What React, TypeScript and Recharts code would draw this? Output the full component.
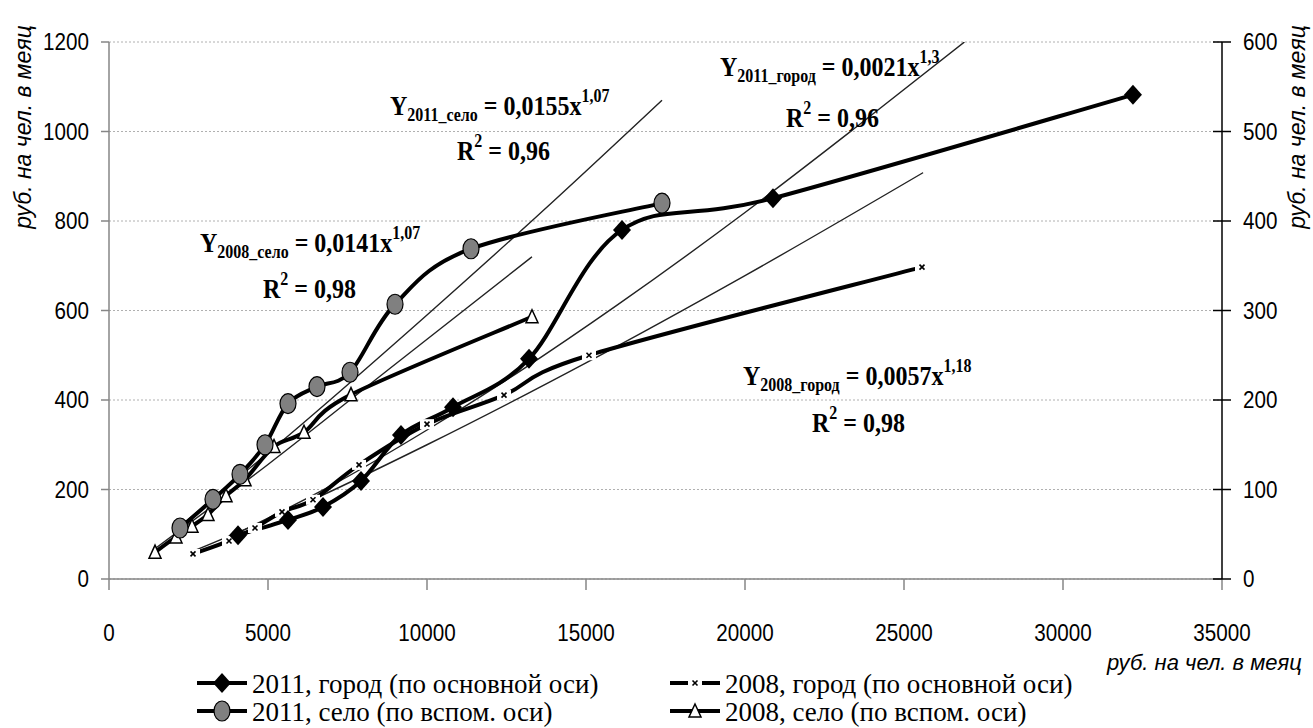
import React from 'react';
import { ComposedChart, Line, XAxis, YAxis, CartesianGrid } from 'recharts';

// Axis ticks
const xTicks = [0, 5000, 10000, 15000, 20000, 25000, 30000, 35000];
const leftTicks = [0, 200, 400, 600, 800, 1000, 1200];
const rightTicks = [0, 100, 200, 300, 400, 500, 600];

// 2011, город (primary axis)
const city2011X = [4057, 5629, 6730, 7925, 9182, 10818, 13208, 16132, 20880, 32200];
const city2011Y = [98, 132, 161, 219, 322, 384, 492, 780, 851, 1082];

// 2008, город (primary axis)
const city2008X = [2642, 3774, 4591, 5440, 6415, 7862, 10000, 12422, 15094, 25566];
const city2008Y = [56, 85, 114, 150, 177, 255, 346, 411, 500, 697];

// 2011, село (secondary axis)
const village2011X = [2233, 3270, 4120, 4906, 5629, 6541, 7579, 8994, 11384, 17390];
const village2011Y = [57, 89, 117, 150, 196, 215, 231, 307, 369, 420];

// 2008, село (secondary axis)
const village2008X = [1447, 2107, 2610, 3113, 3680, 4277, 5189, 6132, 7610, 13302];
const village2008Y = [30, 47, 59, 72, 93, 111, 148, 164, 206, 293];

// power trend lines
const trendCity2011X = [4057, 7000, 10000, 13000, 16000, 20000, 23500, 26900];
const trendCity2011Y = [103, 209, 333, 468, 613, 819, 1010, 1200];
const trendCity2008X = [2642, 6000, 10000, 15000, 20000, 25600];
const trendCity2008Y = [62, 164, 300, 483, 678, 908];
const trendVillage2011X = [2233, 6000, 10000, 14000, 17390];
const trendVillage2011Y = [59, 171, 295, 423, 535];
const trendVillage2008X = [1447, 5000, 9000, 13302];
const trendVillage2008Y = [34, 128, 240, 360];

const zip = (xs: number[], ys: number[]) => xs.map((x, i) => ({ x, y: ys[i] }));

const SANS = "'Liberation Sans', Arial, sans-serif";
const SERIF = "'Liberation Serif', 'Times New Roman', serif";
const TITLE = 'руб. на чел. в меяц';

// Excel-like smoothed line (Catmull-Rom style bezier)
const smoothCurve = (context: any) => {
  let pts: number[][] = [];
  return {
    areaStart() {},
    areaEnd() {},
    lineStart() {
      pts = [];
    },
    point(x: number, y: number) {
      pts.push([+x, +y]);
    },
    lineEnd() {
      const n = pts.length;
      if (!n) return;
      context.moveTo(pts[0][0], pts[0][1]);
      for (let i = 0; i < n - 1; i++) {
        const p0 = pts[i - 1] || pts[i];
        const p1 = pts[i];
        const p2 = pts[i + 1];
        const p3 = pts[i + 2] || p2;
        context.bezierCurveTo(
          p1[0] + (p2[0] - p0[0]) / 6,
          p1[1] + (p2[1] - p0[1]) / 6,
          p2[0] - (p3[0] - p1[0]) / 6,
          p2[1] - (p3[1] - p1[1]) / 6,
          p2[0],
          p2[1]
        );
      }
    },
  };
};

const DiamondDot = (p: any) => {
  const { cx, cy, index } = p;
  if (cx == null || cy == null) return <g key={`dm-${index}`} />;
  return (
    <polygon
      key={`dm-${index}`}
      points={`${cx},${cy - 10} ${cx + 9},${cy} ${cx},${cy + 10} ${cx - 9},${cy}`}
      fill="#000"
    />
  );
};

const CrossDot = (p: any) => {
  const { cx, cy, index } = p;
  if (cx == null || cy == null) return <g key={`cr-${index}`} />;
  return (
    <g key={`cr-${index}`}>
      <rect x={cx - 7} y={cy - 5} width={14} height={10} fill="#fff" />
      <line x1={cx - 2.5} y1={cy - 2.5} x2={cx + 2.5} y2={cy + 2.5} stroke="#000" strokeWidth={1.6} />
      <line x1={cx - 2.5} y1={cy + 2.5} x2={cx + 2.5} y2={cy - 2.5} stroke="#000" strokeWidth={1.6} />
    </g>
  );
};

const CircleDot = (p: any) => {
  const { cx, cy, index } = p;
  if (cx == null || cy == null) return <g key={`ci-${index}`} />;
  return <ellipse key={`ci-${index}`} cx={cx} cy={cy} rx={8} ry={10} fill="#808080" stroke="#000" strokeWidth={1.2} />;
};

const TriangleDot = (p: any) => {
  const { cx, cy, index } = p;
  if (cx == null || cy == null) return <g key={`tr-${index}`} />;
  return (
    <polygon
      key={`tr-${index}`}
      points={`${cx},${cy - 7} ${cx + 6},${cy + 6} ${cx - 6},${cy + 6}`}
      fill="#fff"
      stroke="#000"
      strokeWidth={1.5}
    />
  );
};

// narrow-looking tick labels
const XTick = (props: any) => {
  const { x, y, payload } = props;
  return (
    <text transform={`translate(${x},${y}) scale(0.86,1)`} dy="0.71em" textAnchor="middle" fill="#000" fontSize={24} fontFamily={SANS}>
      {payload.value}
    </text>
  );
};

const LeftTick = (props: any) => {
  const { x, y, payload } = props;
  return (
    <text transform={`translate(${x},${y}) scale(0.86,1)`} dy="0.35em" textAnchor="end" fill="#000" fontSize={24} fontFamily={SANS}>
      {payload.value}
    </text>
  );
};

const RightTick = (props: any) => {
  const { x, y, payload } = props;
  const ax = x - 21;
  return (
    <g>
      <line x1={ax - 9} x2={ax} y1={y} y2={y} stroke="#000" strokeWidth={1.5} />
      <text transform={`translate(${x},${y}) scale(0.86,1)`} dy="0.35em" textAnchor="start" fill="#000" fontSize={24} fontFamily={SANS}>
        {payload.value}
      </text>
    </g>
  );
};

const Equation = ({ x, y, sub, coef, pow }: any) => (
  <g transform={`translate(${x},${y}) scale(1,1.15)`}>
    <text x={0} y={0} fontFamily={SERIF} fontWeight="bold" fontSize={24} fill="#000">
      Y<tspan fontSize={16} dy={5}>{sub}</tspan>
      <tspan fontSize={24} dy={-5}>{` = ${coef}x`}</tspan>
      <tspan fontSize={16} dy={-11}>{pow}</tspan>
    </text>
  </g>
);

const RSquared = ({ x, y, value }: any) => (
  <g transform={`translate(${x},${y}) scale(1,1.15)`}>
    <text x={0} y={0} fontFamily={SERIF} fontWeight="bold" fontSize={24} fill="#000">
      R<tspan fontSize={16} dy={-11}>2</tspan>
      <tspan fontSize={24} dy={11}>{` = ${value}`}</tspan>
    </text>
  </g>
);

const LegendIcon = ({ x, y, kind }: any) => {
  const cx = x + 25;
  return (
    <g>
      {kind === 'cross' ? (
        <>
          <line x1={x} x2={x + 18} y1={y} y2={y} stroke="#000" strokeWidth={4} />
          <line x1={x + 32} x2={x + 50} y1={y} y2={y} stroke="#000" strokeWidth={4} />
        </>
      ) : (
        <line x1={x} x2={x + 50} y1={y} y2={y} stroke="#000" strokeWidth={4} />
      )}
      {kind === 'diamond' && DiamondDot({ cx, cy: y, index: 'l' })}
      {kind === 'cross' && (
        <g>
          <line x1={cx - 2.5} y1={y - 2.5} x2={cx + 2.5} y2={y + 2.5} stroke="#000" strokeWidth={1.6} />
          <line x1={cx - 2.5} y1={y + 2.5} x2={cx + 2.5} y2={y - 2.5} stroke="#000" strokeWidth={1.6} />
        </g>
      )}
      {kind === 'circle' && CircleDot({ cx, cy: y, index: 'l' })}
      {kind === 'triangle' && TriangleDot({ cx, cy: y, index: 'l' })}
    </g>
  );
};

const legendItems = [
  { x: 197, y: 683, kind: 'diamond', label: '2011, город (по основной оси)' },
  { x: 670, y: 683, kind: 'cross', label: '2008, город (по основной оси)' },
  { x: 197, y: 711, kind: 'circle', label: '2011, село (по вспом. оси)' },
  { x: 670, y: 711, kind: 'triangle', label: '2008, село (по вспом. оси)' },
];

export default function App() {
  return (
    <div style={{ position: 'absolute', left: 0, top: 0, width: 1313, height: 728, background: '#fff', overflow: 'hidden' }}>
      <ComposedChart width={1313} height={728} margin={{ top: 42, right: 0, bottom: 0, left: 0 }}>
        <CartesianGrid yAxisId="left" vertical={false} stroke="#b0b0b0" strokeDasharray="2 2" />
        <XAxis
          type="number"
          dataKey="x"
          domain={[0, 35000]}
          ticks={xTicks}
          height={149}
          allowDataOverflow
          axisLine={{ stroke: '#868686', strokeWidth: 1.5 }}
          tickLine={{ stroke: '#868686', strokeWidth: 1.5 }}
          tickSize={11}
          tickMargin={34}
          tick={<XTick />}
        />
        <YAxis
          yAxisId="left"
          type="number"
          domain={[0, 1200]}
          ticks={leftTicks}
          width={109}
          allowDataOverflow
          axisLine={{ stroke: '#868686', strokeWidth: 1.5 }}
          tickLine={{ stroke: '#868686', strokeWidth: 1.5 }}
          tickSize={8}
          tickMargin={12}
          tick={<LeftTick />}
        />
        <YAxis
          yAxisId="right"
          orientation="right"
          type="number"
          domain={[0, 600]}
          ticks={rightTicks}
          width={91}
          allowDataOverflow
          axisLine={{ stroke: '#000', strokeWidth: 1.5 }}
          tickLine={{ stroke: '#000', strokeWidth: 1.5 }}
          tickSize={9}
          tickMargin={12}
          tick={<RightTick />}
        />

        {/* trend lines */}
        <Line data={zip(trendCity2011X, trendCity2011Y)} dataKey="y" yAxisId="left" type="monotone"
          stroke="#222" strokeWidth={1.4} dot={false} activeDot={false} isAnimationActive={false} />
        <Line data={zip(trendCity2008X, trendCity2008Y)} dataKey="y" yAxisId="left" type="monotone"
          stroke="#222" strokeWidth={1.4} dot={false} activeDot={false} isAnimationActive={false} />
        <Line data={zip(trendVillage2011X, trendVillage2011Y)} dataKey="y" yAxisId="right" type="monotone"
          stroke="#222" strokeWidth={1.4} dot={false} activeDot={false} isAnimationActive={false} />
        <Line data={zip(trendVillage2008X, trendVillage2008Y)} dataKey="y" yAxisId="right" type="monotone"
          stroke="#222" strokeWidth={1.4} dot={false} activeDot={false} isAnimationActive={false} />

        {/* series */}
        <Line data={zip(city2008X, city2008Y)} dataKey="y" yAxisId="left" type={smoothCurve as any}
          stroke="#000" strokeWidth={4} dot={CrossDot} activeDot={false} isAnimationActive={false} />
        <Line data={zip(city2011X, city2011Y)} dataKey="y" yAxisId="left" type={smoothCurve as any}
          stroke="#000" strokeWidth={4} dot={DiamondDot} activeDot={false} isAnimationActive={false} />
        <Line data={zip(village2008X, village2008Y)} dataKey="y" yAxisId="right" type={smoothCurve as any}
          stroke="#000" strokeWidth={4} dot={TriangleDot} activeDot={false} isAnimationActive={false} />
        <Line data={zip(village2011X, village2011Y)} dataKey="y" yAxisId="right" type={smoothCurve as any}
          stroke="#000" strokeWidth={4} dot={CircleDot} activeDot={false} isAnimationActive={false} />
      </ComposedChart>

      <svg width={1313} height={728} style={{ position: 'absolute', left: 0, top: 0, pointerEvents: 'none' }}>
        {/* axis titles */}
        <text transform="translate(31,127) rotate(-90)" textAnchor="middle" fontFamily={SANS} fontStyle="italic" fontSize={23} fill="#000">
          {TITLE}
        </text>
        <text transform="translate(1305,127) rotate(-90)" textAnchor="middle" fontFamily={SANS} fontStyle="italic" fontSize={23} fill="#000">
          {TITLE}
        </text>
        <text x={1107} y={670} fontFamily={SANS} fontStyle="italic" fontSize={22} fill="#000">
          {TITLE}
        </text>

        {/* trend equations */}
        <Equation x={720} y={76} sub="2011_город" coef="0,0021" pow="1,3" />
        <RSquared x={786} y={127} value="0,96" />
        <Equation x={390} y={115} sub="2011_село" coef="0,0155" pow="1,07" />
        <RSquared x={457} y={160} value="0,96" />
        <Equation x={200} y={252} sub="2008_село" coef="0,0141" pow="1,07" />
        <RSquared x={263} y={298} value="0,98" />
        <Equation x={743} y={385} sub="2008_город" coef="0,0057" pow="1,18" />
        <RSquared x={812} y={432} value="0,98" />

        {/* legend */}
        {legendItems.map((it) => (
          <g key={it.label}>
            <LegendIcon x={it.x} y={it.y} kind={it.kind} />
            <text x={it.x + 55} y={it.y + 10} fontFamily={SERIF} fontSize={27} fill="#000">
              {it.label}
            </text>
          </g>
        ))}
      </svg>
    </div>
  );
}
